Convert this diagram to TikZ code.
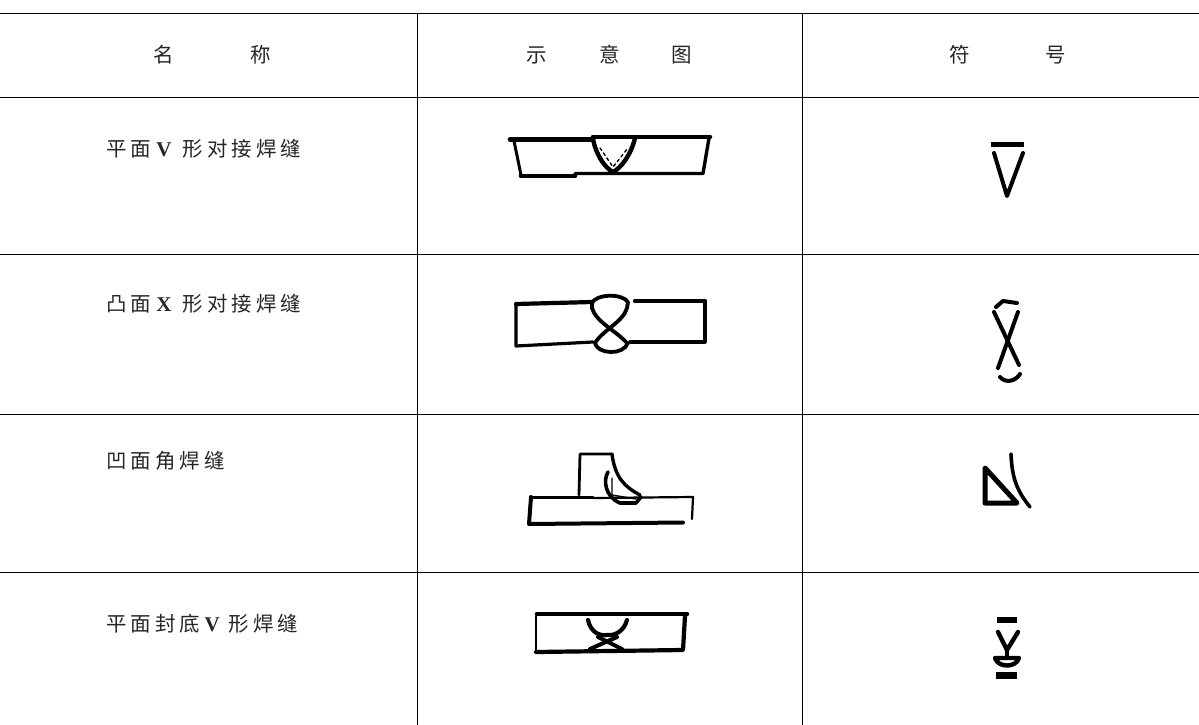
\documentclass[tikz,border=0pt]{standalone}
\usepackage{fontspec}
\setmainfont{Liberation Serif}
\newfontfamily\cjk[LetterSpace=20]{Noto Sans CJK SC}
\newcommand{\lat}[1]{{\normalfont\fontsize{21}{24}\selectfont\bfseries #1}}
\begin{document}
\begin{tikzpicture}[x=1pt,y=-1pt,line cap=round,line join=round,
  rule/.style={line width=1pt,black,line cap=butt},
  sym/.style={black},
  label/.style={font=\fontsize{20.5}{24}\selectfont\cjk,text=black!85,inner sep=0pt,anchor=west},
  head/.style={font=\fontsize{20.5}{24}\selectfont\cjk,text=black!85,inner sep=0pt}]
\useasboundingbox (0,0) rectangle (1199,725);
% table
\draw[rule] (0,13.5) -- (1199,13.5);
\draw[rule] (0,97.5) -- (1199,97.5);
\draw[rule] (0,254.5) -- (1199,254.5);
\draw[rule] (0,414.5) -- (1199,414.5);
\draw[rule] (0,572.5) -- (1199,572.5);
\draw[rule] (417.5,13) -- (417.5,725);
\draw[rule] (802.5,13) -- (802.5,725);
% header
\node[head] (h1) at (164,55) {名};
\node[head] (h2) at (261,55) {称};
\node[head] (h3) at (537,55) {示};
\node[head] (h4) at (610,55) {意};
\node[head] (h5) at (682,55) {图};
\node[head] (h6) at (960,55) {符};
\node[head] (h7) at (1056,55) {号};
% labels
\node[label] (r1) at (106,149) {平面\hspace{5pt}\lat{V}\hspace{11pt}形对接焊缝};
\node[label] (r2) at (106,304) {凸面\hspace{5pt}\lat{X}\hspace{11pt}形对接焊缝};
\node[label] (r3) at (106,461) {凹面角焊缝};
\node[label] (r4) at (106,624) {平面封底\hspace{4pt}\lat{V}\hspace{9pt}形焊缝};
% drawing 1
\draw[line width=4.6pt] (510,139.5) -- (593,139.5);
\draw[line width=4.6pt] (593,137) -- (710,137);
\draw[line width=3pt] (514,141) -- (521,175);
\draw[line width=4.6pt] (521,176) -- (575,176);
\draw[line width=3.4pt] (575,173.5) -- (703,173.5) -- (709,138);
\draw[line width=4.4pt] (593,139) .. controls (596,155) and (605,168) .. (613,172) .. controls (621,168) and (631,155) .. (635,138);
\draw[line width=1.4pt,dashed] (600,148) -- (613,167) -- (628,148);
% drawing 2
\draw[line width=4.2pt] (516,304) -- (592,302);
\draw[line width=4.2pt] (635,301) -- (705,301);
\draw[line width=3.2pt] (705,301) -- (705,342) -- (630,342);
\draw[line width=3.2pt] (593,342) -- (516,346) -- (516,304);
\draw[line width=3.8pt] (592,303) .. controls (596,294) and (622,293) .. (628,302);
\draw[line width=3.8pt] (592,308) .. controls (596,322) and (615,330) .. (627,343);
\draw[line width=3.8pt] (627,308) .. controls (623,322) and (603,330) .. (595,343);
\draw[line width=3.8pt] (595,343) .. controls (597,354) and (623,356) .. (628,343);
\draw[line width=3.8pt] (592,303) -- (592,308);
\draw[line width=3.8pt] (628,302) -- (627,308);
% drawing 3
\draw[line width=3pt] (531,497) -- (593,497);
\draw[line width=2.2pt] (593,498) -- (693,497) -- (692,519);
\draw[line width=4pt] (683,522.5) -- (529,524) -- (531,497);
\draw[line width=2.8pt] (579,495) -- (580,454) -- (612,454);
\draw[line width=3.4pt] (612,454) .. controls (615,478) and (625,487) .. (640,495);
\draw[line width=3.6pt] (608,472) .. controls (603,480) and (605,497) .. (620,503) -- (636,503) -- (641,497);
\draw[line width=1.4pt] (612,478) -- (612,495) -- (636,499);
% drawing 4
\draw[line width=4.6pt] (537,614) -- (687,614);
\draw[line width=2.8pt] (536,616) -- (536,652);
\draw[line width=4.2pt] (536,652) -- (683,650) -- (685,616);
\draw[line width=4.2pt] (588,620) .. controls (591,633) and (600,636) .. (607,635) .. controls (615,636) and (624,631) .. (627,620);
\draw[line width=4pt] (598,637) -- (622,649);
\draw[line width=4pt] (617,637) -- (590,649);
% symbols
\draw[sym,line cap=butt,line width=5pt] (991,144) -- (1024,144);
\draw[sym,line width=4pt] (994,153) -- (1007,196) -- (1023,153);
\draw[sym,line width=4pt] (996,307) -- (1003,301) -- (1017,303);
\draw[sym,line width=4pt] (994,312) -- (1019,365);
\draw[sym,line width=4pt] (1018,312) -- (998,368);
\draw[sym,line width=4pt] (1000,377) .. controls (1005,383) and (1015,382) .. (1020,374);
\draw[sym,line width=5pt] (985,468) -- (985,503) -- (1017,503) -- cycle;
\draw[sym,line width=3.6pt] (1011,454) .. controls (1012,480) and (1018,492) .. (1030,507);
\draw[sym,line cap=butt,line width=6pt] (997,620) -- (1017,620);
\draw[sym,line width=4.4pt] (998,632) -- (1007,650) -- (1018,632);
\draw[sym,line width=4.4pt] (1007,650) -- (1007,657);
\draw[sym,line width=4.4pt] (995,658) .. controls (998,668) and (1016,668) .. (1019,658) -- cycle;
\draw[sym,line cap=butt,line width=7pt] (996,675) -- (1017,675);
\end{tikzpicture}
\end{document}
